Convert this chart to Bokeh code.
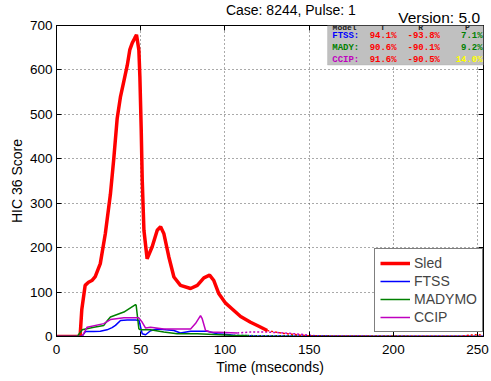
from bokeh.plotting import figure
from bokeh.layouts import column
from bokeh.models import (Legend, LegendItem, Label, BoxAnnotation, LinearAxis,
                          FixedTicker)
from bokeh.embed import file_html
from bokeh.resources import INLINE

# ---- data ----
sled_t = [0, 14, 15, 17, 19, 21, 23, 26, 29, 32, 34, 36, 38, 40, 42, 43.5, 45, 46.5, 47.5,
          48.9, 49.5, 50.3, 50.9, 51.9, 53.8, 56.8, 59.8, 61.8, 63.7, 66.7, 69.7, 73.6,
          79.6, 83.6, 87.5, 90.9, 93.4, 96.4, 100.4, 104.3, 109.3, 115.2, 120.1, 125.1]
sled_v = [0, 0, 60, 115, 122, 126, 135, 164, 232, 320, 400, 490, 540, 575, 610, 645, 661, 672, 679,
          645, 585, 465, 352, 239, 175, 202, 239, 247, 232, 179, 134, 115,
          108, 115, 132, 138, 126, 96, 75, 62, 45, 32, 23, 13.5]
sled_tail_t = [125.1, 130, 135, 140, 145, 150, 160, 240, 245, 250, 253]
sled_tail_v = [13.5, 10, 7, 5, 3, 1.5, 0.5, 0.5, 3, 4, 3]

ftss_t = [0, 15, 17.2, 22, 26, 30, 33, 35, 38, 42, 47, 49, 50.9, 52.9, 55.8, 59.8, 65,
          69.7, 73.6, 79.6, 89.5, 95.4, 101.4, 105]
ftss_v = [0, 0, 11, 11, 12, 15, 20, 25, 36, 37, 37, 36, 6, 4, 13, 17, 15,
          13.5, 8, 12, 12, 6, 4.5, 3]
ftss_tail_t = [105, 120, 253]
ftss_tail_v = [3, 1, 0.5]

mady_t = [0, 12.3, 15.2, 22.2, 28.1, 30, 32, 40, 46.9, 47.3, 48.9, 49.9, 55.8, 63.7,
          71.6, 83.6, 93.4, 103.4, 113.2]
mady_v = [0, 0, 15, 21, 25, 35, 44, 55, 72, 70, 17, 15, 15, 10,
          6, 6, 4.5, 3, 2]
mady_tail_t = [113.2, 253]
mady_tail_v = [2, 0.3]

ccip_t = [0, 15.2, 18.2, 28.1, 32, 40, 48.9, 50.9, 52.9, 55.8, 63.7, 79.6, 82.5, 85.5,
          86.5, 88.5, 91.5, 100, 107.3]
ccip_v = [0, 0, 21, 29, 38, 42, 42, 32, 19, 21, 17, 17, 29, 47,
          40, 13.5, 10, 9, 8]
ccip_tail_t = [107.3, 115, 125, 135, 145, 155, 253]
ccip_tail_v = [8, 10, 10, 8, 5, 1, 0.5]

series_names = ["Sled", "FTSS", "MADYMO", "CCIP"]
table_models = ["FTSS:", "MADY:", "CCIP:"]
table_T = ["94.1%", "90.6%", "91.6%"]
table_R = ["-93.8%", "-90.1%", "-90.5%"]
table_P = ["7.1%", "9.2%", "14.0%"]

x_ticks = [0, 50, 100, 150, 200, 250]
y_ticks = [0, 100, 200, 300, 400, 500, 600, 700]

title_text = "Case: 8244, Pulse: 1"
version_text = "Version: 5.0"

# ---- styling ----
RED, BLUE, GREEN, MAG = "#ff0000", "#0000ff", "#008000", "#bf00bf"
FONT = "Liberation Sans"

# header strip holding the title and the version text (the plot overlaps it)
head = figure(width=491, height=25, x_range=(0, 491), y_range=(0, 25),
              output_backend="svg", toolbar_location=None,
              min_border_left=0, min_border_right=0, min_border_top=0, min_border_bottom=0)
head.axis.visible = False
head.grid.visible = False
head.outline_line_color = None
head.background_fill_color = "white"
head.border_fill_color = "white"
head.add_layout(Label(x=269.5, y=16, text=title_text, text_align="center",
                      text_baseline="middle", text_font=FONT, text_font_size="14px",
                      text_color="black"))
head.add_layout(Label(x=487, y=8, text=version_text, text_align="right",
                      text_baseline="middle", text_font=FONT, text_font_size="15.5px",
                      text_color="black"))

p = figure(width=491, height=381, x_range=(0, 253.5), y_range=(0, 700),
           output_backend="svg", toolbar_location=None,
           min_border_left=56, min_border_right=8, min_border_top=25, min_border_bottom=45)
p.margin = (-25, 0, 0, 0)
p.background_fill_color = "white"
p.border_fill_alpha = 0
p.outline_line_color = "black"
p.outline_line_width = 1

for ax, ticks in ((p.xaxis[0], x_ticks), (p.yaxis[0], y_ticks)):
    ax.ticker = FixedTicker(ticks=ticks)
    ax.major_tick_in = 5
    ax.major_tick_out = 0
    ax.minor_tick_line_color = None
    ax.axis_line_color = "black"
    ax.major_tick_line_color = "black"
    ax.major_label_text_font = FONT
    ax.major_label_text_font_size = "13.5px"
    ax.major_label_text_color = "black"
    ax.axis_label_text_font = FONT
    ax.axis_label_text_font_size = "14px"
    ax.axis_label_text_font_style = "normal"
    ax.axis_label_text_color = "black"

p.xaxis.axis_label = "Time (mseconds)"
p.yaxis.axis_label = "HIC 36 Score"
p.xaxis.major_label_standoff = 8
p.xaxis.axis_label_standoff = 2
p.yaxis.major_label_standoff = 4
p.yaxis.axis_label_standoff = 2

# tick marks on the top and right edges (box style), labels not drawn
for loc, ticks in (("above", x_ticks), ("right", y_ticks)):
    ax = LinearAxis(ticker=FixedTicker(ticks=ticks), major_tick_in=5, major_tick_out=0,
                    minor_tick_line_color=None, major_label_text_font_size="1px",
                    major_label_text_color=None, major_label_standoff=0,
                    axis_line_color="black")
    p.add_layout(ax, loc)

p.xgrid.ticker = FixedTicker(ticks=x_ticks)
p.ygrid.ticker = FixedTicker(ticks=y_ticks)
for g in (p.xgrid[0], p.ygrid[0]):
    g.grid_line_color = "#555555"
    g.grid_line_dash = "1 3"
    g.grid_line_width = 1

# dotted tails
p.line(ccip_tail_t, ccip_tail_v, color=MAG, line_width=1.5, line_dash="2 2")
p.line(mady_tail_t, mady_tail_v, color=GREEN, line_width=1.5, line_dash="2 2")
p.line(ftss_tail_t, ftss_tail_v, color=BLUE, line_width=1.5, line_dash="2 2")
p.line(sled_tail_t, sled_tail_v, color=RED, line_width=1.5, line_dash="2 2")

r_sled = p.line(sled_t, sled_v, color=RED, line_width=3.5)
r_ftss = p.line(ftss_t, ftss_v, color=BLUE, line_width=1.5)
r_mady = p.line(mady_t, mady_v, color=GREEN, line_width=1.5)
r_ccip = p.line(ccip_t, ccip_v, color=MAG, line_width=1.5)

legend = Legend(items=[LegendItem(label=n, renderers=[r]) for n, r in
                       zip(series_names, [r_sled, r_ftss, r_mady, r_ccip])],
                location=(318, 4), padding=5, spacing=0, margin=0,
                label_height=18, glyph_height=18, glyph_width=30, label_standoff=4,
                label_text_font=FONT, label_text_font_size="14px",
                border_line_color="black", border_line_width=1,
                background_fill_color="white", background_fill_alpha=1)
p.add_layout(legend, "center")

# stats table box (top right)
p.add_layout(BoxAnnotation(left=160.9, right=253.5, bottom=611, top=700,
                           fill_color="#c0c0c0", fill_alpha=1, line_color="#a0a0a0",
                           line_width=1))
MONO = "Liberation Mono"
row_y = [675.6, 650.1, 623.0]
name_cols = [BLUE, GREEN, MAG]
p_cols = [GREEN, GREEN, "#ffff00"]
hdr = dict(text_font=MONO, text_font_size="8px", text_font_style="bold",
           text_color="#202020", text_baseline="middle", y=695.5)
p.add_layout(Label(x=163.9, text="Model", text_align="left", **hdr))
p.add_layout(Label(x=193.6, text="T", text_align="center", **hdr))
p.add_layout(Label(x=216.2, text="R", text_align="center", **hdr))
p.add_layout(Label(x=244.0, text="P", text_align="center", **hdr))
for i in range(3):
    base = dict(text_font=MONO, text_font_size="9px", text_font_style="bold",
                text_baseline="middle", y=row_y[i])
    p.add_layout(Label(x=163.7, text=table_models[i], text_color=name_cols[i],
                       text_align="left", **base))
    p.add_layout(Label(x=185.9, text=table_T[i], text_color=RED, text_align="left", **base))
    p.add_layout(Label(x=208.4, text=table_R[i], text_color=RED, text_align="left", **base))
    p.add_layout(Label(x=253.0, text=table_P[i], text_color=p_cols[i], text_align="right",
                       **base))

open("out.html", "w").write(file_html(column(head, p, spacing=0), INLINE))
